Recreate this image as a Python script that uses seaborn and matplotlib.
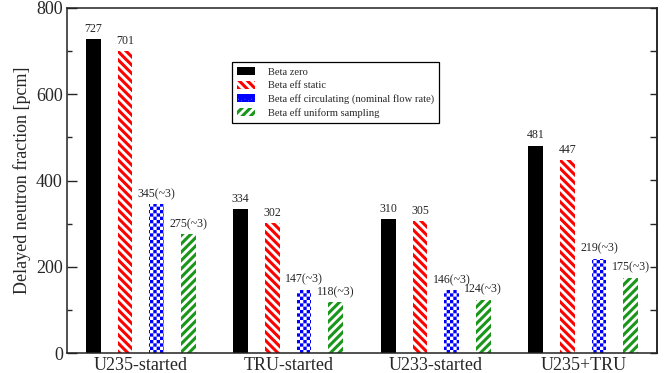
import warnings
import numpy as np
import pandas as pd
import matplotlib
matplotlib.use("Agg")
import matplotlib.pyplot as plt
import matplotlib.hatch as mhatch
from matplotlib.path import Path
from matplotlib.ticker import MultipleLocator
import seaborn as sns

warnings.filterwarnings("ignore")

cores = ["U235-started", "TRU-started", "U233-started", "U235+TRU"]
series = ["Beta zero", "Beta eff static",
          "Beta eff circulating (nominal flow rate)", "Beta eff uniform sampling"]
beta_zero = [727, 334, 310, 481]
beta_static = [701, 302, 305, 447]
beta_circulating = [345, 147, 146, 219]
beta_uniform = [275, 118, 124, 175]
label_suffix = ["", "", "(~3)", "(~3)"]

colors = ["black", "#ff0000", "#0000ff", "#1a961a"]
hatches = ["", "\\" * 4, "#####", "////"]


class CheckerHatch(mhatch.HatchPatternBase):
    """Filled checkerboard squares, selected with the '#' hatch character."""

    def __init__(self, hatch, density):
        self.cells = hatch.count("#") * density
        n = self.cells
        self.num_vertices = (n * n // 2) * 5 if n else 0

    def set_vertices_and_codes(self, vertices, codes):
        n = self.cells
        step = 1.0 / n
        sq = np.array([[0, 0], [1, 0], [1, 1], [0, 1], [0, 0]], float)
        k = 0
        for i in range(n):
            for j in range(n):
                if (i + j) % 2 == 0:
                    vertices[k:k + 5] = (sq + [i, j]) * step
                    codes[k:k + 5] = [Path.MOVETO, Path.LINETO, Path.LINETO,
                                      Path.LINETO, Path.CLOSEPOLY]
                    k += 5


mhatch._hatch_types.append(CheckerHatch)

sns.set_style("ticks")
plt.rcParams["font.family"] = ["Liberation Serif", "DejaVu Serif"]
plt.rcParams["hatch.linewidth"] = 2.2

rows = []
for name, vals in zip(series, [beta_zero, beta_static, beta_circulating, beta_uniform]):
    for core, v in zip(cores, vals):
        rows.append({"core": core, "series": name, "value": v})
df = pd.DataFrame(rows)

fig = plt.figure(figsize=(6.65, 3.73), dpi=100)
ax = fig.add_axes([67 / 665, 20 / 373, 590 / 665, 345 / 373])

sns.barplot(data=df, x="core", y="value", hue="series", order=cores,
            hue_order=series, palette=colors, saturation=1, width=0.86,
            gap=0.535, linewidth=0, errorbar=None, legend=False, ax=ax)

all_vals = [beta_zero, beta_static, beta_circulating, beta_uniform]
for cont, col, hat, vals, suf in zip(ax.containers, colors, hatches, all_vals, label_suffix):
    for bar in cont:
        if hat:
            bar.set_facecolor("white")
            bar.set_edgecolor(col)
            bar.set_linewidth(0)
            bar.set_hatch(hat)
            if hat.startswith("#") and hasattr(bar, "set_hatch_linewidth"):
                bar.set_hatch_linewidth(0.01)
    ax.bar_label(cont, labels=[f"{v}{suf}" for v in vals], padding=3, fontsize=8.6)

ax.set_xlim(-0.5, 3.5)
ax.set_ylim(0, 800)
ax.yaxis.set_major_locator(MultipleLocator(200))
ax.yaxis.set_minor_locator(MultipleLocator(100))
ax.tick_params(axis="y", which="major", direction="in", length=7, width=1,
               labelsize=13, pad=3, right=False)
ax.tick_params(axis="y", which="minor", direction="in", length=3.5, width=1, right=False)
ax.tick_params(axis="x", length=0, labelsize=13, pad=3)

right = ax.secondary_yaxis("right")
right.yaxis.set_major_locator(MultipleLocator(100))
right.tick_params(axis="y", direction="in", length=5, width=1, labelright=False)

for sp in list(ax.spines.values()) + [right.spines["right"]]:
    sp.set_linewidth(1.1)
    sp.set_color("#222222")

ax.set_xlabel("")
ax.set_ylabel("Delayed neutron fraction [pcm]", fontsize=13, labelpad=4)

leg = ax.legend(ax.containers, series, loc="upper left", bbox_to_anchor=(0.28, 0.843),
                borderaxespad=0, fontsize=7.6, frameon=True, fancybox=False,
                framealpha=1, edgecolor="black", handlelength=1.75,
                handleheight=0.8, labelspacing=0.38, borderpad=0.45,
                handletextpad=1.2)
leg.get_frame().set_linewidth(0.9)

fig.savefig("out.png", dpi=100)
